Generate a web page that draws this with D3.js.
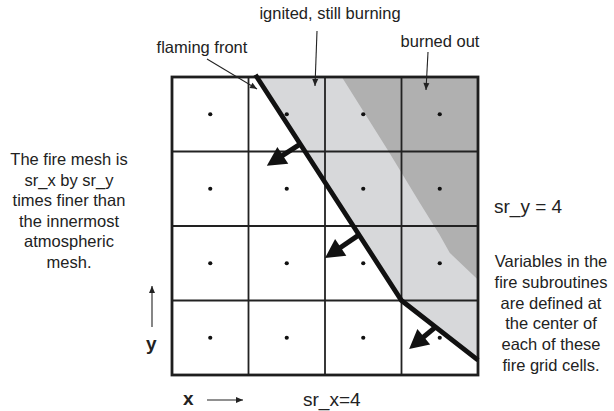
<!DOCTYPE html>
<html>
<head>
<meta charset="utf-8">
<script src="https://cdn.jsdelivr.net/npm/d3@7"></script>
<style>
  html, body { margin: 0; padding: 0; background: #fff; }
  svg { display: block; font-family: "Liberation Sans", Arial, sans-serif; }
</style>
</head>
<body>
<svg id="chart" width="614" height="411"></svg>
<script>
// fire mesh refinement
var srX = 4, srY = 4;

// fire state regions, in cell units (x right, y up)
var burningArea = [[1.1, 4], [3, 1], [4, 0.2], [4, 4]];
var burnedOut = [[2.22, 4], [2.82, 3.02], [3.24, 2.31], [3.5, 1.88], [3.63, 1.64], [4, 1.28], [4, 4]];
var frontLine = [[1.09, 4.03], [3, 1], [4, 0.2]];

// spread direction arrows (from front, to tip)
var spreadArrows = [
  [[1.66, 3.09], [1.24, 2.81]],
  [[2.43, 1.87], [2.0, 1.57]],
  [[3.44, 0.64], [3.1, 0.35]]
];

// callout labels, in pixels
var callouts = [
  { text: "flaming front", x: 202, y: 53, from: [207, 59], to: [257, 89] },
  { text: "ignited, still burning", x: 330, y: 19, from: [317, 31], to: [315, 86] },
  { text: "burned out", x: 440, y: 47, from: [428, 52], to: [426, 90] }
];

var leftNote = ["The fire mesh is", "sr_x by sr_y", "times finer than", "the innermost", "atmospheric", "mesh."];
var rightNote = ["Variables in the", "fire subroutines", "are defined at", "the center of", "each of these", "fire grid cells."];

var svg = d3.select("#chart");

var x = d3.scaleLinear().domain([0, srX]).range([172, 478]);
var y = d3.scaleLinear().domain([0, srY]).range([375, 77]);

var line = d3.line().x(function(d){ return x(d[0]); }).y(function(d){ return y(d[1]); });

svg.append("defs").append("clipPath").attr("id", "grid-clip")
  .append("rect")
  .attr("x", x(0)).attr("y", y(srY))
  .attr("width", x(srX) - x(0)).attr("height", y(0) - y(srY));

var fills = svg.append("g").attr("clip-path", "url(#grid-clip)");
fills.append("path").attr("d", line(burningArea) + "Z").attr("fill", "#d7d8da");
fills.append("path").attr("d", line(burnedOut) + "Z").attr("fill", "#b0b0b0");

// grid cells
var cells = [];
d3.range(srX).forEach(function(i){
  d3.range(srY).forEach(function(j){ cells.push([i, j]); });
});

svg.append("g").selectAll("line.v")
  .data(d3.range(1, srX))
  .enter().append("line")
  .attr("x1", function(d){ return x(d); }).attr("x2", function(d){ return x(d); })
  .attr("y1", y(0)).attr("y2", y(srY))
  .attr("stroke", "#222").attr("stroke-width", 1.8);

svg.append("g").selectAll("line.h")
  .data(d3.range(1, srY))
  .enter().append("line")
  .attr("y1", function(d){ return y(d); }).attr("y2", function(d){ return y(d); })
  .attr("x1", x(0)).attr("x2", x(srX))
  .attr("stroke", "#222").attr("stroke-width", 1.8);

svg.append("rect")
  .attr("x", x(0)).attr("y", y(srY))
  .attr("width", x(srX) - x(0)).attr("height", y(0) - y(srY))
  .attr("fill", "none").attr("stroke", "#1e1e1e").attr("stroke-width", 2.8);

svg.append("g").selectAll("circle")
  .data(cells)
  .enter().append("circle")
  .attr("cx", function(d){ return x(d[0] + 0.5); })
  .attr("cy", function(d){ return y(d[1] + 0.5); })
  .attr("r", 2.1)
  .attr("fill", "#111");

// flaming front
svg.append("path")
  .attr("d", line(frontLine))
  .attr("fill", "none").attr("stroke", "#111").attr("stroke-width", 4.8)
  .attr("stroke-linejoin", "miter");

function arrowHead(p0, p1, len, half)
{
  var dx = p1[0] - p0[0], dy = p1[1] - p0[1],
      l = Math.sqrt(dx * dx + dy * dy),
      ux = dx / l, uy = dy / l,
      bx = p1[0] - ux * len, by = p1[1] - uy * len;
  return [[p1[0], p1[1]], [bx - uy * half, by + ux * half], [bx + uy * half, by - ux * half]];
}

// spread arrows
spreadArrows.forEach(function(a){
  var p0 = [x(a[0][0]), y(a[0][1])], p1 = [x(a[1][0]), y(a[1][1])];
  var head = arrowHead(p0, p1, 19, 10);
  var mid = [(head[1][0] + head[2][0]) / 2, (head[1][1] + head[2][1]) / 2];
  svg.append("line")
    .attr("x1", p0[0]).attr("y1", p0[1]).attr("x2", mid[0] + (p1[0] - mid[0]) * 0.2).attr("y2", mid[1] + (p1[1] - mid[1]) * 0.2)
    .attr("stroke", "#111").attr("stroke-width", 5);
  svg.append("polygon").attr("points", head.join(" ")).attr("fill", "#111");
});

// thin arrows
function thinArrow(p0, p1)
{
  var head = arrowHead(p0, p1, 7, 3);
  svg.append("line")
    .attr("x1", p0[0]).attr("y1", p0[1]).attr("x2", p1[0]).attr("y2", p1[1])
    .attr("stroke", "#222").attr("stroke-width", 1.1);
  svg.append("polygon").attr("points", head.join(" ")).attr("fill", "#222");
}

callouts.forEach(function(c){
  svg.append("text")
    .attr("x", c.x).attr("y", c.y)
    .attr("text-anchor", "middle")
    .attr("font-size", 16.5).attr("fill", "#222")
    .text(c.text);
  thinArrow(c.from, c.to);
});

svg.append("text")
  .attr("text-anchor", "middle").attr("font-size", 16.5).attr("fill", "#222")
  .selectAll("tspan").data(leftNote).enter().append("tspan")
  .attr("x", 69).attr("y", function(d, i){ return 165 + i * 20.5; })
  .text(function(d){ return d; });

svg.append("text")
  .attr("text-anchor", "middle").attr("font-size", 16.5).attr("fill", "#222")
  .selectAll("tspan").data(rightNote).enter().append("tspan")
  .attr("x", 551).attr("y", function(d, i){ return 267 + i * 20.8; })
  .text(function(d){ return d; });

svg.append("text")
  .attr("x", 494).attr("y", 213)
  .attr("font-size", 19).attr("fill", "#222")
  .text("sr_y = " + srY);

svg.append("text")
  .attr("x", 303).attr("y", 406)
  .attr("font-size", 19).attr("fill", "#222")
  .text("sr_x=" + srX);

// axis direction labels
svg.append("text")
  .attr("x", 183).attr("y", 405)
  .attr("font-size", 19).attr("font-weight", "bold").attr("fill", "#222")
  .text("x");
thinArrow([207, 400], [243, 400]);

svg.append("text")
  .attr("x", 146).attr("y", 350)
  .attr("font-size", 19).attr("font-weight", "bold").attr("fill", "#222")
  .text("y");
thinArrow([152, 327], [152, 286]);
</script>
</body>
</html>
